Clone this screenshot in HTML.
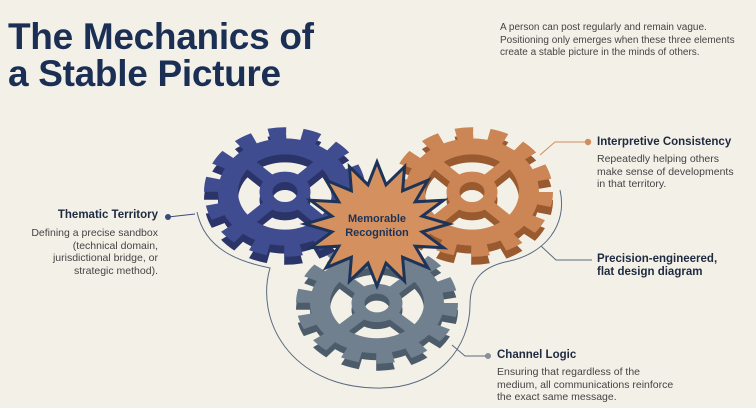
<!DOCTYPE html>
<html><head><meta charset="utf-8"><style>
html,body{margin:0;padding:0}
body{width:756px;height:408px;background:#f3f0e8;position:relative;overflow:hidden;font-family:"Liberation Sans",sans-serif}
.t{position:absolute;left:8px;top:18px;font-size:37px;font-weight:bold;color:#1b2f55;line-height:37px;letter-spacing:-0.3px}
.p{position:absolute;left:500px;top:22px;font-size:10px;line-height:12.5px;color:#444}
.h{position:absolute;font-size:11.5px;font-weight:bold;color:#1e2a40}
.b{position:absolute;font-size:10.5px;line-height:12.5px;color:#444}
</style></head><body>
<div class="t">The Mechanics of<br>a Stable Picture</div>
<div class="p">A person can post regularly and remain vague.<br>Positioning only emerges when these three elements<br>create a stable picture in the minds of others.</div>
<svg width="756" height="408" style="position:absolute;left:0;top:0">
<defs>
<g id="gear">
<circle r="73" fill="none" stroke-width="16" stroke-dasharray="17 15.8"/>
<circle r="57" fill="none" stroke-width="20"/>
<circle r="19" fill="none" stroke-width="13"/>
<g stroke-width="13"><line x1="16" y1="16" x2="38" y2="38"/><line x1="-16" y1="16" x2="-38" y2="38"/><line x1="16" y1="-16" x2="38" y2="-38"/><line x1="-16" y1="-16" x2="-38" y2="-38"/></g>
</g>
</defs>
<path d="M197,212 C205,250 240,262 270,268 C255,320 290,386 375,388 C440,390 470,345 470,305 C470,282 480,268 505,262 C545,255 568,225 560,190" fill="none" stroke="#5a6a80" stroke-width="1"/>
<g transform="translate(377,310) scale(1,0.75)" stroke="#4d5c6a"><use href="#gear"/></g>
<g transform="translate(377,303) scale(1,0.75)" stroke="#71808f"><use href="#gear"/></g>
<g transform="translate(285,200) scale(1,0.8)" stroke="#2b3468"><use href="#gear"/></g>
<g transform="translate(285,192) scale(1,0.8)" stroke="#404c90"><use href="#gear"/></g>
<g transform="translate(472,200) scale(1,0.8)" stroke="#9a5a30"><use href="#gear"/></g>
<g transform="translate(472,192) scale(1,0.8)" stroke="#cc8655"><use href="#gear"/></g>
<polygon fill="#d4915f" stroke="#1e3358" stroke-width="3" points="377,162 386,184.8 404.6,166.7 402.6,190.8 427.9,180.2 415.2,201.8 443.5,200.3 422.1,216.2 449,224 422.1,231.8 443.5,247.7 415.2,246.2 427.9,267.8 402.6,257.2 404.6,281.3 386,263.2 377,286 368,263.2 349.4,281.3 351.4,257.2 326.1,267.8 338.8,246.2 310.5,247.7 331.9,231.8 305,224 331.9,216.2 310.5,200.3 338.8,201.8 326.1,180.2 351.4,190.8 349.4,166.7 368,184.8"/>
<text x="377" y="222" text-anchor="middle" font-family="Liberation Sans,sans-serif" font-size="11" font-weight="bold" fill="#1e3358">Memorable</text>
<text x="377" y="236" text-anchor="middle" font-family="Liberation Sans,sans-serif" font-size="11" font-weight="bold" fill="#1e3358">Recognition</text>
<circle cx="168" cy="217" r="3" fill="#3c4a7a"/><line x1="168" y1="217" x2="195" y2="214" stroke="#3c4a7a" stroke-width="1"/>
<circle cx="588" cy="142" r="3.2" fill="#d08d5e"/><polyline points="588,142 555,142 540,155" fill="none" stroke="#d08d5e" stroke-width="1"/>
<polyline points="541,246 556,260 592,260" fill="none" stroke="#5a6a80" stroke-width="1"/>
<circle cx="488" cy="356" r="3" fill="#8a8f96"/><polyline points="452,345 465,356 486,356" fill="none" stroke="#5a6a80" stroke-width="1"/>
</svg>
<div class="h" style="right:598px;top:209px">Thematic Territory</div>
<div class="b" style="right:598px;top:227px;text-align:right">Defining a precise sandbox<br>(technical domain,<br>jurisdictional bridge, or<br>strategic method).</div>
<div class="h" style="left:597px;top:136px">Interpretive Consistency</div>
<div class="b" style="left:597px;top:153px">Repeatedly helping others<br>make sense of developments<br>in that territory.</div>
<div class="h" style="left:597px;top:253px;line-height:13px">Precision-engineered,<br>flat design diagram</div>
<div class="h" style="left:497px;top:349px">Channel Logic</div>
<div class="b" style="left:497px;top:366px">Ensuring that regardless of the<br>medium, all communications reinforce<br>the exact same message.</div>
</body></html>
